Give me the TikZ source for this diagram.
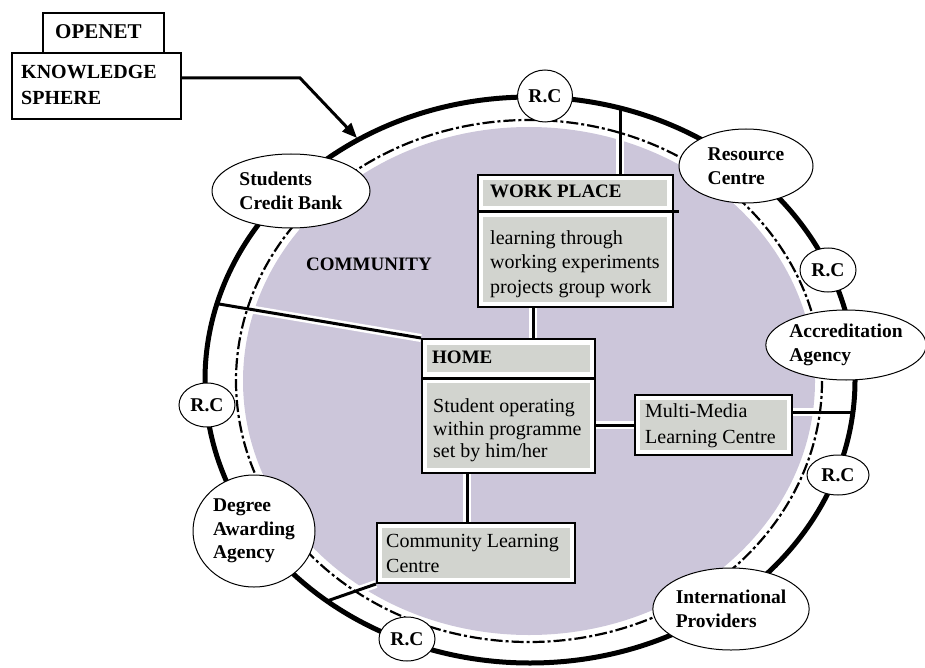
\documentclass[tikz,border=0pt]{standalone}
\usepackage{fontspec}
\setmainfont{Liberation Serif}
\usetikzlibrary{arrows.meta,shapes.geometric}
\definecolor{sphere}{HTML}{CCC6DA}
\definecolor{panel}{HTML}{D2D4CF}
\newcommand\bodyfont{\fontsize{20}{24.5}\selectfont}
\newcommand\headfont{\fontsize{19}{24}\selectfont\bfseries}
\newcommand\tagfont{\fontsize{19.5}{23.5}\selectfont\bfseries}
\begin{document}
\begin{tikzpicture}[x=1pt,y=-1pt,
  rim/.style={line width=5pt},
  dashrim/.style={line width=2.2pt, dash pattern=on 12pt off 3pt on 3pt off 3pt},
  link/.style={line width=3pt, preaction={draw=white, line width=8pt}},
  frame/.style={draw, line width=2pt, fill=white, inner sep=0pt, rectangle},
  pane/.style={fill=panel, inner sep=0pt, rectangle},
  tag/.style={ellipse, draw, line width=1pt, fill=white, inner sep=0pt, align=left, font=\tagfont},
  body/.style={anchor=base west, inner sep=0pt, font=\bodyfont},
  head/.style={anchor=base west, inner sep=0pt, font=\headfont},
]
\useasboundingbox (0,0) rectangle (925,668);

% shaded community area and its two rims
\fill[sphere] (529,381) ellipse [x radius=286, y radius=254];

% named points on the outer rim
\coordinate (wpRim) at (620,107);
\coordinate (homeRim) at (219,304);
\coordinate (mmRim) at (855,412);
\coordinate (clcRim) at (327,601);
\coordinate (sepEnd) at (679,212);
\coordinate (tip) at (357,138);
\coordinate (bend) at (300,78);

% boxes (outer frames)
\node[frame, minimum width=195, minimum height=132] (wp) at (575.5,241) {};
\node[frame, minimum width=173, minimum height=134] (home) at (508.5,406) {};
\node[frame, minimum width=157, minimum height=60] (mm) at (713.5,425) {};
\node[frame, minimum width=198, minimum height=60] (clc) at (476,553) {};

% connectors
\draw[link] (wpRim) -- (wpRim |- wp.north);
\draw[link] (wp.south -| 533,0) -- (home.north -| 533,0);
\draw[link] (home.north west) -- (homeRim);
\draw[link] (home.east |- mm.west) -- (mm.west);
\draw[link] (mm.east |- mmRim) -- (mmRim);
\draw[link] (home.south -| 467,0) -- (clc.north -| 467,0);
\draw[link] (clc.south west) -- (clcRim);

\draw[dashrim] (529,381) ellipse [x radius=293, y radius=261];
\draw[rim] (530,380) ellipse [x radius=325, y radius=283];

% redraw frames over connector halos
\node[frame, minimum width=195, minimum height=132] at (wp) {};
\node[frame, minimum width=173, minimum height=134] at (home) {};
\node[frame, minimum width=157, minimum height=60] at (mm) {};
\node[frame, minimum width=198, minimum height=60] at (clc) {};

% inner panels
\node[pane, minimum width=184, minimum height=26] (wpHead) at (575,193) {};
\node[pane, minimum width=184, minimum height=85] (wpBody) at (575,259.5) {};
\draw[line width=3pt] (wp.west |- sepEnd) -- (sepEnd);
\node[pane, minimum width=163, minimum height=27] (homeHead) at (508.5,358.5) {};
\node[pane, minimum width=163, minimum height=85] (homeBody) at (508.5,425.5) {};
\draw[line width=3pt] (home.west |- 0,378) -- (home.east |- 0,378);
\node[pane, minimum width=147, minimum height=50] (mmBody) at (713.5,425) {};
\node[pane, minimum width=188, minimum height=50] (clcBody) at (476,553) {};

% box texts
\node[head] (wpT) at (490,198) {WORK PLACE};
\node[body] (wpL1) at (490,244) {learning through};
\node[body] (wpL2) at (490,268.5) {working experiments};
\node[body] (wpL3) at (490,293) {projects group work};
\node[head] (homeT) at (432,363) {HOME};
\node[body] (homeL1) at (433,412) {Student operating};
\node[body] (homeL2) at (433,435) {within programme};
\node[body] (homeL3) at (433,457) {set by him/her};
\node[body] (mmL1) at (645,417) {Multi-Media};
\node[body] (mmL2) at (645,443) {Learning Centre};
\node[body] (clcL1) at (386,547) {Community Learning};
\node[body] (clcL2) at (386,572) {Centre};
\node[head] (comm) at (306,270) {COMMUNITY};

% partner ellipses on the rim
\node[tag, minimum width=158, minimum height=74] (scb) at (291,191) {Students\\Credit Bank};
\node[tag, minimum width=134, minimum height=74] (res) at (746,166) {Resource\\Centre};
\node[tag, minimum width=156, minimum height=70] (acc) at (846,345) {Accreditation\\Agency};
\node[tag, minimum width=154, minimum height=82] (intl) at (731,609) {International\\Providers};
\node[tag, minimum width=122, minimum height=112] (deg) at (254,531) {Degree\\Awarding\\Agency};

% resource-centre circles
\node[tag, minimum width=55, minimum height=52] (rcTop) at (545,96) {R.C};
\node[tag, minimum width=56, minimum height=44] (rcRight) at (828,270) {R.C};
\node[tag, minimum width=62, minimum height=40] (rcLow) at (838,475) {R.C};
\node[tag, minimum width=56, minimum height=44] (rcBottom) at (407,639) {R.C};
\node[tag, minimum width=56, minimum height=44] (rcLeft) at (207,405) {R.C};

% title boxes and arrow
\node[frame, minimum width=169, minimum height=66] (kb) at (96.5,86) {};
\node[frame, minimum width=121, minimum height=40] (op) at (103.5,33) {};
\node[anchor=base west, inner sep=0pt, font=\fontsize{21}{24}\selectfont\bfseries] (opT) at (55,39) {OPENET};
\node[anchor=base west, inner sep=0pt, font=\fontsize{20}{24}\selectfont\bfseries] (kbL1) at (21,79) {KNOWLEDGE};
\node[anchor=base west, inner sep=0pt, font=\fontsize{20}{24}\selectfont\bfseries] (kbL2) at (21,105) {SPHERE};
\draw[line width=3pt, -{Triangle[length=15pt,width=12pt]}] (kb.east |- bend) -- (bend) -- (tip);
\end{tikzpicture}
\end{document}
